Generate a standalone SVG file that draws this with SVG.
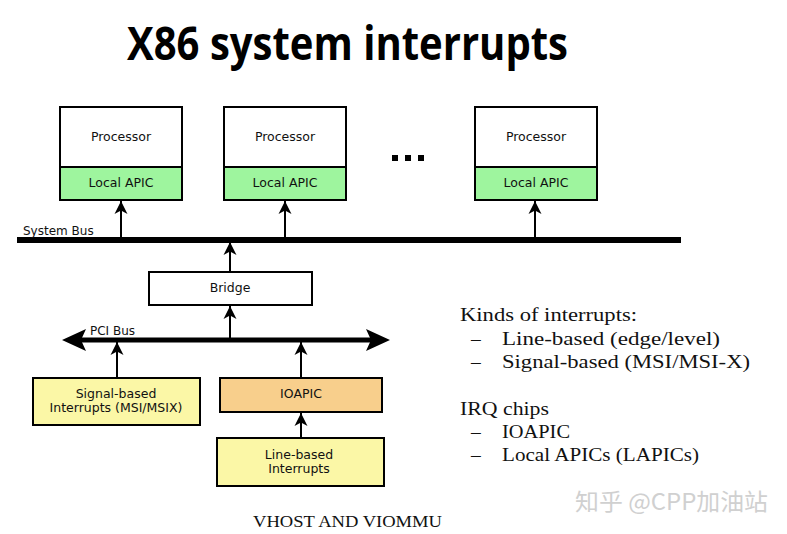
<svg xmlns="http://www.w3.org/2000/svg" width="787" height="534" viewBox="0 0 787 534">
<defs>
<style>
.box{stroke:#000;stroke-width:2}
.proc{fill:#fff}
.lapic{fill:#9ef59e}
.yel{fill:#fbf7a6}
.org{fill:#f8cf8c}
.lbl{font-family:"DejaVu Sans",sans-serif;font-size:12.5px;fill:#111;text-anchor:middle}
.bus{stroke:#000;stroke-width:6}
.ln{stroke:#000;stroke-width:2;fill:none}
.srf{font-family:"Liberation Serif",serif;font-size:19.5px;fill:#111}
</style>
<marker id="ah" markerUnits="userSpaceOnUse" markerWidth="16" markerHeight="16" viewBox="0 0 16 16" refX="14" refY="8" orient="auto">
<path d="M1,1.5 L14,8 L1,14.5 L4.5,8 Z" fill="#000"/>
</marker>
<marker id="bh" markerUnits="userSpaceOnUse" markerWidth="26" markerHeight="24" viewBox="0 0 26 24" refX="25" refY="12" orient="auto">
<path d="M1,1 L25,12 L1,23 L6,12 Z" fill="#000"/>
</marker>
</defs>
<rect width="787" height="534" fill="#fff"/>
<text x="127" y="60" font-family="'Open Sans','Noto Sans',sans-serif" font-weight="bold" font-size="46" textLength="441" lengthAdjust="spacingAndGlyphs" fill="#000">X86 system interrupts</text>

<g id="cpu1">
<rect class="box proc" x="60" y="107" width="122" height="60"/>
<rect class="box lapic" x="60" y="167" width="122" height="33"/>
<text class="lbl" x="121" y="141">Processor</text>
<text class="lbl" x="121" y="187">Local APIC</text>
</g>
<g id="cpu2">
<rect class="box proc" x="224" y="107" width="122" height="60"/>
<rect class="box lapic" x="224" y="167" width="122" height="33"/>
<text class="lbl" x="285" y="141">Processor</text>
<text class="lbl" x="285" y="187">Local APIC</text>
</g>
<g id="dots" fill="#000">
<rect x="392" y="155" width="6" height="6"/>
<rect x="405" y="155" width="6" height="6"/>
<rect x="418" y="155" width="6" height="6"/>
</g>
<g id="cpu3">
<rect class="box proc" x="475" y="107" width="122" height="60"/>
<rect class="box lapic" x="475" y="167" width="122" height="33"/>
<text class="lbl" x="536" y="141">Processor</text>
<text class="lbl" x="536" y="187">Local APIC</text>
</g>
<g id="bridge">
<rect class="box proc" x="149" y="272" width="163" height="33"/>
<text class="lbl" x="230" y="292">Bridge</text>
</g>
<g id="msi">
<rect class="box yel" x="33" y="378" width="167" height="47"/>
<text class="lbl" x="116" y="398">Signal-based</text>
<text class="lbl" x="116" y="412">Interrupts (MSI/MSIX)</text>
</g>
<g id="ioapic">
<rect class="box org" x="220" y="378" width="162" height="34"/>
<text class="lbl" x="301" y="398">IOAPIC</text>
</g>
<g id="line">
<rect class="box yel" x="217" y="438" width="167" height="48"/>
<text class="lbl" x="299" y="459">Line-based</text>
<text class="lbl" x="299" y="473">Interrupts</text>
</g>

<g id="connectors">
<line class="bus" x1="17" y1="240" x2="681" y2="240"/>
<text x="23" y="235" font-family="'DejaVu Sans',sans-serif" font-size="12" fill="#111">System Bus</text>
<line class="ln" x1="121" y1="237" x2="121" y2="201" marker-end="url(#ah)"/>
<line class="ln" x1="285" y1="237" x2="285" y2="201" marker-end="url(#ah)"/>
<line class="ln" x1="535" y1="237" x2="535" y2="201" marker-end="url(#ah)"/>
<line class="ln" x1="230" y1="271" x2="230" y2="242" marker-end="url(#ah)"/>
<line class="bus" x1="80" y1="340" x2="372" y2="340" style="stroke-width:5"/>
<line class="ln" x1="200" y1="340" x2="62" y2="340" style="stroke:none" marker-end="url(#bh)"/>
<line class="ln" x1="200" y1="340" x2="390" y2="340" style="stroke:none" marker-end="url(#bh)"/>
<text x="90" y="335" font-family="'DejaVu Sans',sans-serif" font-size="12" fill="#111">PCI Bus</text>
<line class="ln" x1="230" y1="338" x2="230" y2="306" marker-end="url(#ah)"/>
<line class="ln" x1="117" y1="377" x2="117" y2="342" marker-end="url(#ah)"/>
<line class="ln" x1="301" y1="377" x2="301" y2="342" marker-end="url(#ah)"/>
<line class="ln" x1="301" y1="437" x2="301" y2="413" marker-end="url(#ah)"/>
</g>

<g id="notes" class="srf">
<text x="460" y="321" textLength="177" lengthAdjust="spacingAndGlyphs">Kinds of interrupts:</text>
<text x="471" y="345">–</text><text x="502" y="345" textLength="218" lengthAdjust="spacingAndGlyphs">Line-based (edge/level)</text>
<text x="471" y="368">–</text><text x="502" y="368" textLength="248" lengthAdjust="spacingAndGlyphs">Signal-based (MSI/MSI-X)</text>
<text x="460" y="415" textLength="89" lengthAdjust="spacingAndGlyphs">IRQ chips</text>
<text x="471" y="438">–</text><text x="502" y="438" textLength="68" lengthAdjust="spacingAndGlyphs">IOAPIC</text>
<text x="471" y="461">–</text><text x="502" y="461" textLength="197" lengthAdjust="spacingAndGlyphs">Local APICs (LAPICs)</text>
</g>
<text x="253" y="527" font-family="'Liberation Serif',serif" font-size="16" fill="#111" textLength="189" lengthAdjust="spacingAndGlyphs">VHOST AND VIOMMU</text>
<text x="575" y="510" font-family="'Noto Sans CJK SC','Noto Sans',sans-serif" font-size="23" fill="#d0d0d0" textLength="193" lengthAdjust="spacingAndGlyphs">知乎 @CPP加油站</text>
</svg>
